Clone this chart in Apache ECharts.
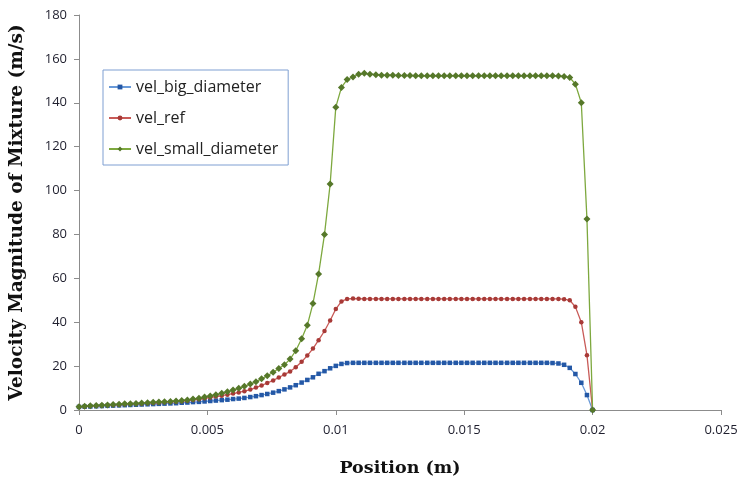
<!DOCTYPE html>
<html>
<head>
<meta charset="utf-8">
<title>Velocity Magnitude of Mixture</title>
<script src="https://cdn.jsdelivr.net/npm/echarts@6/dist/echarts.min.js"></script>
<style>
  html, body { margin: 0; padding: 0; background: #fff; }
  #chart { width: 742px; height: 484px; }
</style>
</head>
<body>
<div id="chart"></div>
<script>
// sample positions along the line (m)
const position = [
  0, 0.00022, 0.00044, 0.00067, 0.00089, 0.00111, 0.00133, 0.00156, 0.00178, 0.00200,
  0.00222, 0.00244, 0.00267, 0.00289, 0.00311, 0.00333, 0.00356, 0.00378, 0.00400, 0.00422,
  0.00444, 0.00467, 0.00489, 0.00511, 0.00533, 0.00556, 0.00578, 0.00600, 0.00622, 0.00644,
  0.00667, 0.00689, 0.00711, 0.00733, 0.00756, 0.00778, 0.00800, 0.00822, 0.00844, 0.00867,
  0.00889, 0.00911, 0.00933, 0.00956, 0.00978, 0.01000, 0.01022, 0.01044, 0.01067, 0.01089,
  0.01111, 0.01133, 0.01156, 0.01178, 0.01200, 0.01222, 0.01244, 0.01267, 0.01289, 0.01311,
  0.01333, 0.01356, 0.01378, 0.01400, 0.01422, 0.01444, 0.01467, 0.01489, 0.01511, 0.01533,
  0.01556, 0.01578, 0.01600, 0.01622, 0.01644, 0.01667, 0.01689, 0.01711, 0.01733, 0.01756,
  0.01778, 0.01800, 0.01822, 0.01844, 0.01867, 0.01889, 0.01911, 0.01933, 0.01956, 0.01978,
  0.02000
]

// velocity magnitude (m/s)
const velBigDiameter = [
  1.4, 1.5, 1.6, 1.7, 1.8, 1.9, 2.0, 2.1, 2.2, 2.3,
  2.4, 2.5, 2.6, 2.7, 2.8, 2.9, 3.0, 3.1, 3.3, 3.4,
  3.6, 3.7, 3.9, 4.1, 4.3, 4.5, 4.7, 5.0, 5.2, 5.5,
  5.9, 6.3, 6.8, 7.3, 7.9, 8.6, 9.4, 10.3, 11.3, 12.5,
  13.7, 14.9, 16.5, 17.7, 19.0, 20.1, 21.0, 21.4, 21.5, 21.5,
  21.5, 21.5, 21.5, 21.5, 21.5, 21.5, 21.5, 21.5, 21.5, 21.5,
  21.5, 21.5, 21.5, 21.5, 21.5, 21.5, 21.5, 21.5, 21.5, 21.5,
  21.5, 21.5, 21.5, 21.5, 21.5, 21.5, 21.5, 21.5, 21.5, 21.5,
  21.5, 21.5, 21.5, 21.4, 21.2, 20.6, 19.2, 16.4, 12.4, 6.8,
  0
]
const velRef = [
  1.5, 1.6, 1.8, 1.9, 2.0, 2.2, 2.3, 2.4, 2.6, 2.7,
  2.8, 2.9, 3.1, 3.2, 3.3, 3.5, 3.6, 3.8, 4.0, 4.2,
  4.6, 4.9, 5.3, 5.7, 6.1, 6.5, 7.0, 7.5, 8.0, 8.6,
  9.3, 10.2, 11.2, 12.3, 13.5, 14.8, 16.2, 17.5, 19.5, 22.0,
  24.8, 28.0, 31.8, 36.0, 40.8, 46.0, 49.5, 50.6, 50.8, 50.7,
  50.6, 50.6, 50.6, 50.6, 50.6, 50.6, 50.6, 50.6, 50.6, 50.6,
  50.6, 50.6, 50.6, 50.6, 50.6, 50.6, 50.6, 50.6, 50.6, 50.6,
  50.6, 50.6, 50.6, 50.6, 50.6, 50.6, 50.6, 50.6, 50.6, 50.6,
  50.6, 50.6, 50.6, 50.6, 50.6, 50.5, 50.0, 47.0, 40.0, 25.0,
  0
]
const velSmallDiameter = [
  1.5, 1.7, 1.9, 2.0, 2.2, 2.3, 2.5, 2.6, 2.8, 2.9,
  3.0, 3.2, 3.3, 3.5, 3.6, 3.8, 3.9, 4.1, 4.3, 4.6,
  5.0, 5.4, 5.9, 6.4, 7.0, 7.6, 8.3, 9.1, 9.9, 10.8,
  11.8, 12.9, 14.2, 15.6, 17.2, 18.9, 20.6, 23.2, 27.0, 32.5,
  38.6, 48.5, 62.0, 80.0, 103.0, 138.0, 147.0, 150.6, 151.8, 153.0,
  153.4, 153.0, 152.8, 152.6, 152.5, 152.5, 152.4, 152.4, 152.4, 152.3,
  152.3, 152.3, 152.3, 152.3, 152.3, 152.3, 152.3, 152.3, 152.3, 152.3,
  152.3, 152.3, 152.3, 152.3, 152.3, 152.3, 152.3, 152.3, 152.3, 152.3,
  152.3, 152.3, 152.3, 152.3, 152.2, 152.0, 151.5, 148.5, 140.0, 87.0,
  0
]

const seriesNames = ['vel_big_diameter', 'vel_ref', 'vel_small_diameter']
const seriesValues = [velBigDiameter, velRef, velSmallDiameter]
const xTicks = [0, 0.005, 0.01, 0.015, 0.02, 0.025]
const yTicks = [0, 20, 40, 60, 80, 100, 120, 140, 160, 180]

// line colour, marker colour, marker shape, marker size
const styles = [
  { line: '#6a9ad8', marker: '#2458a6', symbol: 'rect', size: 4.5 },
  { line: '#c85a57', marker: '#a83a37', symbol: 'circle', size: 4.5 },
  { line: '#7da83e', marker: '#56782a', symbol: 'diamond', size: 7 }
]

let myChart = echarts.init(document.getElementById('chart'))

let series = []
seriesValues.forEach((values, index) => {
  let st = styles[index]
  series.push({
    name: seriesNames[index],
    type: 'line',
    data: values.map((v, i) => [position[i], v]),
    symbol: st.symbol,
    symbolSize: st.size,
    showSymbol: true,
    lineStyle: { color: st.line, width: 1.3 },
    itemStyle: { color: st.marker },
    z: 2 + index,
    animation: false
  })
})

const axisText = { color: '#1f1f2e', fontSize: 13, fontFamily: 'Open Sans' }
const titleText = { color: '#111', fontWeight: 'bold', fontFamily: 'DejaVu Serif' }

myChart.setOption({
  animation: false,
  //图表位置
  grid: { left: 79, right: 21, top: 15, bottom: 74, outerBoundsMode: 'none' },
  //图例
  legend: {
    orient: 'vertical',
    left: 103,
    top: 70,
    padding: [8, 10, 7, 5],
    itemGap: 13,
    itemWidth: 22,
    itemHeight: 6,
    borderColor: '#7e9fd2',
    borderWidth: 1,
    textStyle: { color: '#222', fontSize: 16, fontFamily: 'Open Sans', lineHeight: 18 },
    data: seriesNames
  },
  xAxis: {
    type: 'value',
    min: xTicks[0],
    max: xTicks[xTicks.length - 1],
    interval: 0.005,
    name: 'Position (m)',
    nameLocation: 'middle',
    nameGap: 49,
    nameTextStyle: Object.assign({ fontSize: 17.5 }, titleText),
    axisLine: { lineStyle: { color: '#8c8c8c' } },
    axisTick: { show: true, length: 5, lineStyle: { color: '#8c8c8c' } },
    axisLabel: Object.assign({ margin: 14 }, axisText),
    splitLine: { show: false }
  },
  yAxis: {
    type: 'value',
    min: yTicks[0],
    max: yTicks[yTicks.length - 1],
    interval: 20,
    name: 'Velocity Magnitude of Mixture (m/s)',
    nameLocation: 'middle',
    nameGap: 52,
    nameTextStyle: Object.assign({ fontSize: 18.5 }, titleText),
    axisLine: { show: true, lineStyle: { color: '#8c8c8c' } },
    axisTick: { show: true, length: 5, lineStyle: { color: '#8c8c8c' } },
    axisLabel: Object.assign({ margin: 12 }, axisText),
    splitLine: { show: false }
  },
  series
})
</script>
</body>
</html>
